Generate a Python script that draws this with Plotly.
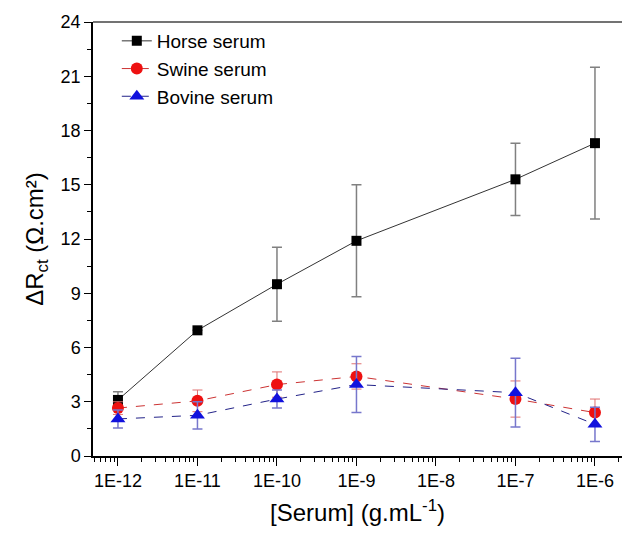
import plotly.graph_objects as go

conc = [1e-12, 1e-11, 1e-10, 1e-9, 1e-7, 1e-6]
horse = [3.1, 6.95, 9.5, 11.9, 15.3, 17.3]
horse_err = [0.45, 0.0, 2.05, 3.1, 2.0, 4.2]
swine = [2.65, 3.05, 3.95, 4.4, 3.15, 2.4]
swine_err = [0.35, 0.6, 0.7, 0.7, 1.0, 0.75]
bovine = [2.05, 2.25, 3.15, 3.95, 3.5, 1.75]
bovine_err = [0.5, 0.75, 0.5, 1.55, 1.9, 0.95]

tick_vals = [1e-12, 1e-11, 1e-10, 1e-9, 1e-8, 1e-7, 1e-6]
tick_text = ["1E-12", "1E-11", "1E-10", "1E-9", "1E-8", "1E-7", "1E-6"]

fig = go.Figure()
fig.add_trace(go.Scatter(
    x=conc, y=horse, name="Horse serum", mode="lines+markers",
    line=dict(color="#333333", width=1),
    marker=dict(symbol="square", size=10, color="black"),
    error_y=dict(type="data", array=horse_err, color="#808080", thickness=1.5, width=5),
))
fig.add_trace(go.Scatter(
    x=conc, y=swine, name="Swine serum", mode="lines+markers",
    line=dict(color="#cc3333", width=1, dash="dash"),
    marker=dict(symbol="circle", size=12, color="#ee1111"),
    error_y=dict(type="data", array=swine_err, color="#e07070", thickness=1, width=5),
))
fig.add_trace(go.Scatter(
    x=conc, y=bovine, name="Bovine serum", mode="lines+markers",
    line=dict(color="#222288", width=1, dash="dash"),
    marker=dict(symbol="triangle-up", size=13, color="#1111dd"),
    error_y=dict(type="data", array=bovine_err, color="#7777cc", thickness=1.5, width=5),
))

fig.update_layout(
    width=622, height=536,
    margin=dict(l=93, r=0, t=22, b=80),
    paper_bgcolor="white", plot_bgcolor="white",
    font=dict(family="Liberation Sans, Arial, sans-serif", color="black"),
    showlegend=True,
    legend=dict(x=0.045, y=1.0, xanchor="left", yanchor="top",
                font=dict(size=19), bgcolor="rgba(0,0,0,0)",
                tracegroupgap=0, itemwidth=30),
    shapes=[dict(type="line", xref="paper", yref="paper", x0=0, x1=1, y0=1, y1=1,
                 line=dict(color="#444444", width=1.5))],
)
fig.update_xaxes(
    type="log", range=[-12.314, -5.66],
    tickmode="array", tickvals=tick_vals, ticktext=tick_text,
    ticks="outside", ticklen=8, tickwidth=1.2, tickcolor="black",
    showline=True, linecolor="black", linewidth=1.5,
    showgrid=False, zeroline=False,
    tickfont=dict(size=18),
    minor=dict(ticks="outside", ticklen=4, tickcolor="black", dtick="D1", showgrid=False),
    title=dict(text="[Serum] (g.mL<sup>-1</sup>)", font=dict(size=24), standoff=14),
)
fig.update_yaxes(
    range=[0, 24], tickmode="linear", tick0=0, dtick=3,
    ticks="outside", ticklen=7, tickwidth=1.2, tickcolor="black",
    showline=True, linecolor="black", linewidth=1.5,
    showgrid=False, zeroline=False,
    tickfont=dict(size=18),
    minor=dict(ticks="outside", ticklen=4, tickcolor="black", dtick=1.5, showgrid=False),
    title=dict(text="ΔR<sub>ct</sub> (Ω.cm²)", font=dict(size=24), standoff=10),
)

fig.write_html("out.html")
